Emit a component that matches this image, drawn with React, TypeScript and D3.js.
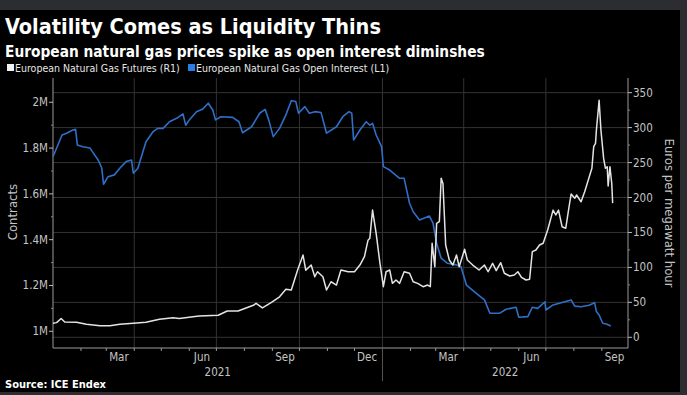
import React from "react";
import * as d3 from "d3";

// European Natural Gas Futures (R1), EUR/MWh
const futuresDates = [
  "2021-01-01", "2021-01-05", "2021-01-10", "2021-01-14", "2021-01-27", "2021-02-07", "2021-02-22",
  "2021-03-05", "2021-03-16", "2021-03-31", "2021-04-14", "2021-04-29", "2021-05-14", "2021-05-21",
  "2021-06-05", "2021-06-12", "2021-07-03", "2021-07-13", "2021-07-25", "2021-08-11", "2021-08-14",
  "2021-08-21", "2021-08-31", "2021-09-09", "2021-09-16", "2021-09-22", "2021-09-29", "2021-10-05",
  "2021-10-08", "2021-10-14", "2021-10-18", "2021-10-21", "2021-10-27", "2021-10-31", "2021-11-05",
  "2021-11-11", "2021-11-16", "2021-11-24", "2021-12-01", "2021-12-07", "2021-12-12", "2021-12-16",
  "2021-12-18", "2021-12-21", "2021-12-25", "2021-12-29", "2022-01-02", "2022-01-05", "2022-01-09",
  "2022-01-12", "2022-01-16", "2022-01-20", "2022-01-25", "2022-01-31", "2022-02-04", "2022-02-09",
  "2022-02-15", "2022-02-20", "2022-02-23", "2022-02-25", "2022-02-28", "2022-03-02", "2022-03-05",
  "2022-03-07", "2022-03-09", "2022-03-12", "2022-03-16", "2022-03-20", "2022-03-24", "2022-03-27",
  "2022-04-02", "2022-04-05", "2022-04-11", "2022-04-18", "2022-04-24", "2022-04-28", "2022-05-03",
  "2022-05-07", "2022-05-12", "2022-05-16", "2022-05-22", "2022-05-27", "2022-05-31", "2022-06-04",
  "2022-06-09", "2022-06-13", "2022-06-16", "2022-06-20", "2022-06-24", "2022-06-28", "2022-07-03",
  "2022-07-09", "2022-07-12", "2022-07-15", "2022-07-19", "2022-07-23", "2022-07-27", "2022-07-29",
  "2022-08-02", "2022-08-04", "2022-08-09", "2022-08-13", "2022-08-17", "2022-08-21", "2022-08-23",
  "2022-08-25", "2022-08-26", "2022-08-29", "2022-08-31", "2022-09-03", "2022-09-05", "2022-09-07",
  "2022-09-08", "2022-09-10", "2022-09-12", "2022-09-13",
];
const futuresValues = [
  20, 21, 27, 22, 21.5, 18.6, 16.6,
  16.6, 18.6, 20, 21.5, 25.8, 28, 27,
  29.5, 30.5, 31.5, 37.6, 37.6, 45.8, 48.6,
  42, 50, 58, 68.7, 67.7, 96.3, 117.7,
  96, 103.4, 86.7, 93.8, 86.7, 67.7, 79.5,
  74.8, 96.3, 93.8, 93.8, 103.4, 115.3, 139,
  141.6, 182, 148.8, 108, 72.4, 93.8, 96.3,
  77.2, 82, 77.2, 93.8, 91.6, 79.5, 77.2,
  72.4, 74.8, 72.4, 134.5, 101, 163, 165.4,
  227.5, 220, 132, 110.6, 103.4, 117.7, 101,
  126, 110.6, 103.4, 96.3, 103.4, 93.8, 105.9,
  95.3, 106.7, 91.6, 87.7, 89.1, 93.8, 85.8,
  82, 83, 122.5, 124.9, 132, 134.5, 153.5,
  182, 175, 182, 158.2, 156, 189.3, 205,
  198.9, 203.6, 194, 208.3, 225, 241.8, 272.7,
  277.5, 296.6, 339, 296.6, 256, 241.8, 244,
  216.5, 244, 220, 192,
];

// European Natural Gas Open Interest (L1), contracts
const interestDates = [
  "2021-01-01", "2021-01-11", "2021-01-16", "2021-01-23", "2021-01-26", "2021-01-28", "2021-02-03",
  "2021-02-11", "2021-02-20", "2021-02-24", "2021-02-26", "2021-03-03", "2021-03-10", "2021-03-16",
  "2021-03-23", "2021-03-29", "2021-03-31", "2021-04-05", "2021-04-14", "2021-04-22", "2021-04-27",
  "2021-05-03", "2021-05-10", "2021-05-18", "2021-05-25", "2021-05-28", "2021-06-01", "2021-06-09",
  "2021-06-16", "2021-06-22", "2021-06-27", "2021-06-30", "2021-07-06", "2021-07-19", "2021-07-26",
  "2021-07-30", "2021-08-09", "2021-08-18", "2021-08-24", "2021-08-28", "2021-09-02", "2021-09-09",
  "2021-09-16", "2021-09-22", "2021-09-27", "2021-09-30", "2021-10-07", "2021-10-12", "2021-10-18",
  "2021-10-25", "2021-10-31", "2021-11-11", "2021-11-18", "2021-11-25", "2021-11-28", "2021-11-30",
  "2021-12-07", "2021-12-14", "2021-12-18", "2021-12-21", "2021-12-25", "2021-12-31", "2022-01-02",
  "2022-01-09", "2022-01-20", "2022-01-25", "2022-01-31", "2022-02-04", "2022-02-11", "2022-02-22",
  "2022-02-26", "2022-03-02", "2022-03-07", "2022-03-14", "2022-03-24", "2022-03-29", "2022-04-04",
  "2022-04-15", "2022-04-24", "2022-04-30", "2022-05-11", "2022-05-18", "2022-05-29", "2022-06-01",
  "2022-06-11", "2022-06-16", "2022-06-22", "2022-06-30", "2022-07-01", "2022-07-09", "2022-07-18",
  "2022-07-29", "2022-08-02", "2022-08-09", "2022-08-18", "2022-08-24", "2022-08-26", "2022-08-29",
  "2022-09-02", "2022-09-06", "2022-09-11",
];
const interestValues = [
  1.762, 1.857, 1.865, 1.879, 1.882, 1.813, 1.806,
  1.8, 1.748, 1.713, 1.642, 1.675, 1.683, 1.712,
  1.741, 1.748, 1.69, 1.712, 1.828, 1.872, 1.886,
  1.886, 1.915, 1.93, 1.949, 1.9, 1.923, 1.959,
  1.971, 1.996, 1.966, 1.923, 1.937, 1.934, 1.915,
  1.867, 1.893, 1.952, 1.969, 1.923, 1.85, 1.886,
  1.945, 2.007, 2.003, 1.952, 1.981, 1.952, 1.959,
  1.955, 1.865, 1.893, 1.937, 1.959, 1.952, 1.835,
  1.879, 1.915, 1.9, 1.908, 1.857, 1.806, 1.719,
  1.704, 1.668, 1.668, 1.559, 1.522, 1.486, 1.503,
  1.472, 1.384, 1.319, 1.297, 1.29, 1.282, 1.202,
  1.166, 1.137, 1.079, 1.079, 1.096, 1.105, 1.061,
  1.064, 1.105, 1.1, 1.129, 1.093, 1.115, 1.125,
  1.137, 1.11, 1.107, 1.114, 1.125, 1.086, 1.071,
  1.035, 1.032, 1.023,
].map((v) => v * 1e6);

const leftTicks = [1e6, 1.2e6, 1.4e6, 1.6e6, 1.8e6, 2e6];
const leftMinor = [1.1e6, 1.3e6, 1.5e6, 1.7e6, 1.9e6];
const rightTicks = [0, 50, 100, 150, 200, 250, 300, 350];
const rightMinor = [25, 75, 125, 175, 225, 275, 325];
const monthLabels = ["2021-03-15", "2021-06-15", "2021-09-15", "2021-12-15", "2022-03-15", "2022-06-15", "2022-09-15"];
const quarterLines = ["2021-04-01", "2021-07-01", "2021-10-01", "2022-01-01", "2022-04-01", "2022-07-01"];
const yearLabels = [
  { label: "2021", from: "2021-01-01", to: "2022-01-01" },
  { label: "2022", from: "2022-01-01", to: "2022-09-30" },
];

const W = 687;
const H = 395;
const m = { left: 53, right: 628, top: 78, bottom: 348 };
const font = "'DejaVu Sans Condensed', 'DejaVu Sans', sans-serif";
const parse = (s: string) => new Date(s + "T00:00:00Z");

export default function App() {
  const x = d3.scaleUtc().domain([parse("2021-01-01"), parse("2022-09-30")]).range([m.left, m.right]);
  const yL = d3.scaleLinear().domain([0.927e6, 2.106e6]).range([m.bottom, m.top]);
  const yR = d3.scaleLinear().domain([-15.3, 371]).range([m.bottom, m.top]);

  const futures = futuresDates.map((d, i) => ({ date: parse(d), value: futuresValues[i] }));
  const interest = interestDates.map((d, i) => ({ date: parse(d), value: interestValues[i] }));

  const lineR = d3.line<{ date: Date; value: number }>().x((d) => x(d.date)).y((d) => yR(d.value));
  const lineL = d3.line<{ date: Date; value: number }>().x((d) => x(d.date)).y((d) => yL(d.value));

  const months = d3.utcMonth.range(parse("2021-02-01"), parse("2022-10-01"));

  return (
    <svg width={W} height={H} style={{ position: "absolute", left: 0, top: 0, background: "#2b2d31" }}>
      <rect x={0} y={10} width={680} height={382} fill="#000" />

      <text x={5} y={34} fill="#fff" fontFamily={font} fontWeight="bold" fontSize={21.5}>
        Volatility Comes as Liquidity Thins
      </text>
      <text x={5} y={57} fill="#fff" fontFamily={font} fontWeight="bold" fontSize={15.3}>
        European natural gas prices spike as open interest diminshes
      </text>

      {/* legend */}
      <rect x={7} y={64} width={7} height={7} fill="#f2f2f2" />
      <text x={15} y={72} fill="#e6e6e6" fontFamily={font} fontSize={10.5}>
        European Natural Gas Futures (R1)
      </text>
      <rect x={188} y={64} width={7} height={7} fill="#2a7de1" />
      <text x={196} y={72} fill="#e6e6e6" fontFamily={font} fontSize={10.5}>
        European Natural Gas Open Interest (L1)
      </text>

      {/* grid */}
      {rightTicks.map((t) => (
        <line key={"gh" + t} x1={m.left} x2={m.right} y1={yR(t)} y2={yR(t)} stroke="#333" strokeWidth={1} />
      ))}
      {quarterLines.map((d) => (
        <line key={"gv" + d} x1={x(parse(d))} x2={x(parse(d))} y1={m.top} y2={m.bottom} stroke="#333" strokeWidth={1} />
      ))}

      {/* axes */}
      <line x1={m.left} x2={m.left} y1={m.top} y2={m.bottom} stroke="#9a9a9a" />
      <line x1={m.right} x2={m.right} y1={m.top} y2={m.bottom} stroke="#9a9a9a" />
      <line x1={m.left} x2={m.right} y1={m.bottom} y2={m.bottom} stroke="#9a9a9a" />

      {leftTicks.map((t) => (
        <g key={"lt" + t}>
          <line x1={m.left - 4} x2={m.left} y1={yL(t)} y2={yL(t)} stroke="#bbb" />
          <text x={m.left - 5} y={yL(t) + 4} textAnchor="end" fill="#c4c4c4" fontFamily={font} fontSize={11.5}>
            {t / 1e6 + "M"}
          </text>
        </g>
      ))}
      {leftMinor.map((t) => (
        <line key={"lm" + t} x1={m.left - 2} x2={m.left} y1={yL(t)} y2={yL(t)} stroke="#888" />
      ))}
      {rightTicks.map((t) => (
        <g key={"rt" + t}>
          <line x1={m.right} x2={m.right + 4} y1={yR(t)} y2={yR(t)} stroke="#bbb" />
          <text x={m.right + 5} y={yR(t) + 4} fill="#c4c4c4" fontFamily={font} fontSize={11.5}>
            {t}
          </text>
        </g>
      ))}
      {rightMinor.map((t) => (
        <line key={"rm" + t} x1={m.right} x2={m.right + 2} y1={yR(t)} y2={yR(t)} stroke="#888" />
      ))}
      {months.map((d) => (
        <line key={"mt" + d.toISOString()} x1={x(d)} x2={x(d)} y1={m.bottom} y2={m.bottom + 3} stroke="#999" />
      ))}
      {monthLabels.map((d) => (
        <text key={"ml" + d} x={x(parse(d))} y={361} textAnchor="middle" fill="#c4c4c4" fontFamily={font} fontSize={11.5}>
          {d3.utcFormat("%b")(parse(d))}
        </text>
      ))}
      <line x1={x(parse("2022-01-01"))} x2={x(parse("2022-01-01"))} y1={m.bottom} y2={381} stroke="#555" />
      {yearLabels.map((yl) => (
        <text
          key={yl.label}
          x={(x(parse(yl.from)) + x(parse(yl.to))) / 2}
          y={376}
          textAnchor="middle"
          fill="#c4c4c4"
          fontFamily={font}
          fontSize={11.5}
        >
          {yl.label}
        </text>
      ))}

      <text transform={`translate(17,212) rotate(-90)`} textAnchor="middle" fill="#c4c4c4" fontFamily={font} fontSize={13}>
        Contracts
      </text>
      <text transform={`translate(665,213) rotate(90)`} textAnchor="middle" fill="#c4c4c4" fontFamily={font} fontSize={13}>
        Euros per megawatt hour
      </text>

      {/* series */}
      <path d={lineL(interest) ?? ""} fill="none" stroke="#2f6fc6" strokeWidth={1.6} strokeLinejoin="round" />
      <path d={lineR(futures) ?? ""} fill="none" stroke="#e4e4e4" strokeWidth={1.5} strokeLinejoin="round" />

      <text x={5} y={388} fill="#fff" fontFamily={font} fontWeight="bold" fontSize={11}>
        Source: ICE Endex
      </text>
    </svg>
  );
}
